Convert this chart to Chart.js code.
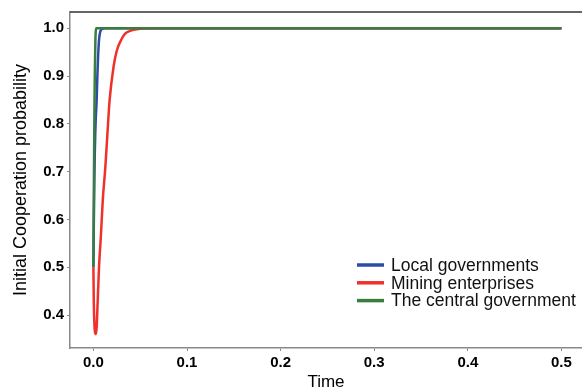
<!DOCTYPE html>
<html>
<head>
<meta charset="utf-8">
<script src="https://cdn.jsdelivr.net/npm/chart.js@4.4.1/dist/chart.umd.min.js"></script>
<style>
  body { margin: 0; background: #fff; }
  #wrap { width: 582px; height: 387px; }
</style>
</head>
<body>
<div id="wrap"><canvas id="simChart" width="582" height="387"></canvas></div>
<script>
// values
const seriesNames = ['Local governments', 'Mining enterprises', 'The central government'];

const timeLocal = [0, 0.0005, 0.001, 0.0015, 0.002, 0.0025, 0.003, 0.0035, 0.004, 0.0046, 0.005, 0.006, 0.007, 0.008, 0.01, 0.012, 0.5];
const localGov  = [0.5, 0.6, 0.68, 0.74, 0.78, 0.81, 0.83, 0.85, 0.885, 0.92, 0.94, 0.975, 0.99, 0.996, 0.999, 1.0, 1.0];

const timeMining = [0, 0.0004, 0.001, 0.0018, 0.0027, 0.0035, 0.0046, 0.006, 0.0081, 0.01, 0.0127, 0.015, 0.0173, 0.0215, 0.0251, 0.03, 0.0339, 0.04, 0.046, 0.06, 0.5];
const miningEnt  = [0.5, 0.43, 0.385, 0.363, 0.36, 0.375, 0.43, 0.5, 0.569, 0.64, 0.708, 0.78, 0.849, 0.919, 0.954, 0.977, 0.989, 0.995, 0.998, 1.0, 1.0];

const timeCentral = [0, 0.0003, 0.0006, 0.0009, 0.0012, 0.0015, 0.0018, 0.0021, 0.0024, 0.003, 0.5];
const centralGov  = [0.5, 0.6, 0.7, 0.78, 0.85, 0.9, 0.94, 0.97, 0.99, 1.0, 1.0];

const xTicks = [0, 0.1, 0.2, 0.3, 0.4, 0.5];
const yTicks = [0.4, 0.5, 0.6, 0.7, 0.8, 0.9, 1.0];

const colors = ['#2a4ea6', '#f0302a', '#3a7d3e'];

function toPoints(xs, ys) {
    return xs.map((x, i) => ({ x: x, y: ys[i] }));
}

Chart.defaults.font.family = '"Liberation Sans", Arial, sans-serif';
Chart.defaults.color = '#000';

// legend drawn inside the plot, lower right
const legendBox = {
    id: 'legendBox',
    afterDraw(chart) {
        const ctx = chart.ctx;
        ctx.save();
        ctx.font = '17.5px "Liberation Sans", Arial, sans-serif';
        ctx.textBaseline = 'middle';
        ctx.fillStyle = '#111';
        chart.data.datasets.forEach((ds, i) => {
            const y = 265 + i * 17.8;
            ctx.strokeStyle = ds.borderColor;
            ctx.lineWidth = 3.5;
            ctx.beginPath();
            ctx.moveTo(357, y);
            ctx.lineTo(384, y);
            ctx.stroke();
            ctx.fillText(ds.label, 391, y + 1);
        });
        ctx.restore();
    }
};

// dark top spine
const topSpine = {
    id: 'topSpine',
    afterDraw(chart) {
        const a = chart.chartArea;
        const ctx = chart.ctx;
        ctx.save();
        ctx.strokeStyle = '#333';
        ctx.lineWidth = 1.5;
        ctx.beginPath();
        ctx.moveTo(a.left, a.top);
        ctx.lineTo(a.right, a.top);
        ctx.stroke();
        ctx.restore();
    }
};

const ctx = document.getElementById('simChart').getContext('2d');
new Chart(ctx, {
    type: 'line',
    data: {
        datasets: [
            { label: seriesNames[0], data: toPoints(timeLocal, localGov), borderColor: colors[0] },
            { label: seriesNames[1], data: toPoints(timeMining, miningEnt), borderColor: colors[1] },
            { label: seriesNames[2], data: toPoints(timeCentral, centralGov), borderColor: colors[2] }
        ].map((d, i) => Object.assign(d, {
            borderWidth: 2.5,
            pointRadius: 0,
            fill: false,
            cubicInterpolationMode: 'monotone',
            order: 3 - i
        }))
    },
    options: {
        responsive: false,
        animation: false,
        devicePixelRatio: 1,
        layout: { padding: { top: 12, right: 0, left: 0, bottom: 0 } },
        plugins: {
            legend: { display: false },
            tooltip: { enabled: false }
        },
        scales: {
            x: {
                type: 'linear',
                min: -0.025,
                max: 0.522,
                afterBuildTicks: (s) => { s.ticks = xTicks.map(v => ({ value: v })); },
                afterFit: (s) => { s.height = 39; },
                grid: { drawOnChartArea: false, drawTicks: true, tickLength: 3, color: '#888' },
                border: { display: true, color: '#888', width: 1.5 },
                ticks: {
                    padding: 3,
                    font: { size: 15, weight: 'bold' },
                    callback: (v) => Number(v).toFixed(1)
                },
                title: {
                    display: true,
                    text: 'Time',
                    font: { size: 17, lineHeight: 0.6 },
                    padding: { top: 0, bottom: 0 }
                }
            },
            y: {
                type: 'linear',
                min: 0.331,
                max: 1.034,
                afterBuildTicks: (s) => { s.ticks = yTicks.map(v => ({ value: v })); },
                afterFit: (s) => { s.width = 70; },
                grid: { drawOnChartArea: false, drawTicks: true, tickLength: 3, color: '#888' },
                border: { display: true, color: '#888', width: 1.5 },
                ticks: {
                    padding: 3,
                    font: { size: 15, weight: 'bold' },
                    callback: (v) => Number(v).toFixed(1)
                },
                title: {
                    display: true,
                    text: 'Initial Cooperation probability',
                    font: { size: 18, lineHeight: 1 },
                    padding: { top: 12, bottom: 0 }
                }
            }
        }
    },
    plugins: [legendBox, topSpine]
});
</script>
</body>
</html>
